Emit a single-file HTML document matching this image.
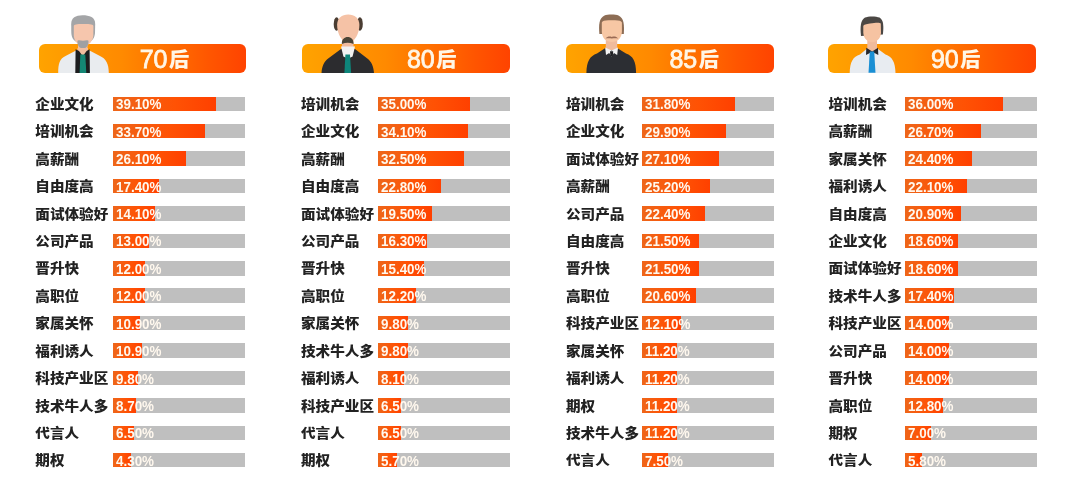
<!DOCTYPE html>
<html lang="zh-CN"><head><meta charset="utf-8"><title>各年龄段求职关注因素</title>
<style>
html,body{margin:0;padding:0;background:#fff;}
body{width:1069px;height:491px;position:relative;overflow:hidden;}
.wrap{position:absolute;left:0;top:0;width:1069px;height:491px;will-change:transform;}
.h{position:absolute;top:43.70px;height:29.00px;border-radius:6px;background:linear-gradient(90deg,#ffa300 0%,#ff8a00 40%,#ff7800 55%,#ff5500 83%,#ff4300 100%);}
.ht{position:absolute;top:47.00px;font:normal 25px/1 "Liberation Sans","Noto Sans CJK SC",sans-serif;color:#fff6e6;white-space:nowrap;-webkit-text-stroke:0.8px #fff6e6;}
.ht span{font-size:20.2px;font-weight:900;margin-left:1.6px;vertical-align:1.2px;-webkit-text-stroke:0;}
.l{position:absolute;font:900 14.6px/1 "Liberation Sans","Noto Sans CJK SC",sans-serif;color:#222;white-space:nowrap;transform:scaleY(0.9);transform-origin:0 50%;}
.b{position:absolute;height:14.50px;width:132.30px;background:#bfbfbf;}
.f{position:absolute;left:0;top:0;height:100%;background:linear-gradient(90deg,#ee661a,#ff5204 60%,#ff4000);}
.p{position:absolute;left:3px;top:0.85px;font:bold 14.5px/1 "Liberation Sans",sans-serif;color:#fff8ee;white-space:nowrap;transform:scaleX(0.925);transform-origin:0 0;}
svg.figs{position:absolute;left:0;top:0;}
</style></head><body><div class="wrap">

<div class="h" style="left:38.70px;width:207.50px"></div>
<div class="h" style="left:302.00px;width:207.70px"></div>
<div class="h" style="left:566.30px;width:207.70px"></div>
<div class="h" style="left:828.40px;width:208.10px"></div>
<svg class="figs" width="1069" height="80" viewBox="0 0 1069 80">
<!-- 70 -->
<g>
<path d="M71.2,24 C71.2,18 75.5,15.3 82.5,15.3 C89.5,15.3 95.2,17 95.2,24 L95,33 C94.6,38 92,41.5 88,42.5 L78,42.5 C74,41.5 71.6,38 71.3,33 Z" fill="#a4a5a7"/>
<rect x="78" y="42" width="9.5" height="14" fill="#f1bda0"/>
<path d="M73.8,26 C74,24.6 76,24.1 83.5,24.1 C91,24.1 93.2,24.6 93.4,26 L93.3,35.5 C93,41 89,45.5 83.5,46 C78,45.5 74,41 73.8,35.5 Z" fill="#f6c6ad"/>
<path d="M77.4,41.2 C77.4,39.9 80,40.2 83,40.7 C86,40.2 88.5,39.9 88.5,41.2 C88.5,46 86,48.4 83,48.4 C80,48.4 77.4,46 77.4,41.2 Z" fill="#9fa0a3"/>
<path d="M58.2,73 C58.2,64 59.5,58.5 66,55.8 L76,50.4 L89.5,50.4 L99.5,55.8 C106,58.5 108.8,64 108.8,73 Z" fill="#e9ecef"/>
<path d="M77.5,48 L88,48 L88,53 L82.8,57.5 L77.5,53 Z" fill="#f1bda0"/>
<path d="M75.6,49.3 L79,51 L82.8,56.2 L86.6,51 L89.6,49.3 L89.9,73 L75.3,73 Z" fill="#1d1d1f"/>
<path d="M80.3,54.6 L85.3,54.6 L86.3,73 L79.6,73 Z" fill="#148674"/>
</g>
<!-- 80 -->
<g>
<path d="M321.5,73 C322,66 324,61.5 328.5,58.2 L341,49 L355,49 L367,58.2 C371.5,61.5 373.5,66 374,73 Z" fill="#2c2c2f"/>
<rect x="342" y="38" width="11.5" height="10" fill="#f0bb9e"/>
<ellipse cx="336.6" cy="24" rx="2.9" ry="6.8" fill="#4a3d33"/>
<ellipse cx="359.9" cy="24" rx="2.9" ry="6.8" fill="#4a3d33"/>
<path d="M348.2,14.5 C354.6,14.5 359.4,18.5 359.4,25 C359.4,33 355,42 348.2,43.6 C341.4,42 337.1,33 337.1,25 C337.1,18.5 341.8,14.5 348.2,14.5 Z" fill="#f5c2a6"/>
<path d="M341.8,44 C341.8,39 344.5,37 347.7,37 C351,37 353.6,39 353.6,44 C351.5,43.2 349.5,42.8 347.7,42.8 C345.8,42.8 343.8,43.2 341.8,44 Z" fill="#4a4436"/>
<path d="M341,46.5 L355,46.5 L352.6,56.5 L348,58.8 L343.4,56.5 Z" fill="#f2f2f2"/>
<path d="M345.4,54.6 L350,54.6 L351.1,73 L344.4,73 Z" fill="#0e857a"/>
</g>
<!-- 85 -->
<g>
<path d="M586.4,73 C586.6,61 590,56 597,53.5 L605,48.3 L617.5,48.3 L626,53.5 C633,56 636,61 636.1,73 Z" fill="#2c2e33"/>
<rect x="605.8" y="38" width="11.4" height="12" fill="#f0bb9c"/>
<path d="M599.4,34 C598.6,25 599,18 604.5,15.5 C607.5,14.3 615.5,14.3 618.5,15.5 C624,18 624.4,25 623.8,34 Z" fill="#8d6d55"/>
<path d="M601.8,22.5 C602.5,20.5 606,19.8 611.8,20.3 C617.5,19.8 621.2,20.5 621.9,22.5 L621.9,32 C621.5,38.5 617.5,42 611.8,42 C606.2,42 602.2,38.5 601.8,32 Z" fill="#f7c7a4"/>
<path d="M605.6,38.6 C607.3,36.3 609.8,36.3 611.8,37 C613.8,36.3 616.3,36.3 618,38.6 C616,38.1 613.5,38.3 611.8,38.6 C610,38.3 607.6,38.1 605.6,38.6 Z" fill="#9a6b55"/>
<path d="M605.2,47.6 L611.6,50.6 L618,47.6 L617.2,55 L614,53 L611.6,56.4 L609.2,53 L606,55 Z" fill="#f4f4f4"/>
<path d="M610,51.3 L613.2,51.3 L612.8,56.2 L610.4,56.2 Z" fill="#1f2024"/>
</g>
<!-- 90 -->
<g>
<path d="M849.7,73 C850,62 853,56.5 860,54.5 L866.5,49 L878,49 L885.5,54.5 C892,56.5 895.3,62 895.5,73 Z" fill="#e8ecf1"/>
<rect x="867.3" y="38" width="9.7" height="13" fill="#f0bb9c"/>
<path d="M861,36 C860,27 860.5,20 865,17.5 C868,16 876,16 879.5,17.5 C884,20 883.6,27 882.9,34.5 Z" fill="#4b4744"/>
<path d="M863.3,26 C863.8,24.5 866,24.3 870,23.5 C875,22.7 880,22.2 880.8,23.5 L881,33 C880.5,39 876.5,42.2 872.2,42.2 C867.8,42.2 863.8,39 863.3,33 Z" fill="#f6c3a2"/>
<path d="M866.3,47.7 L872.2,51.5 L878,47.7 L878.3,55 L874.5,53 L872.2,54.5 L869.9,53 L866,55 Z" fill="#26262b"/>
<path d="M869.8,51.5 L874.2,51.5 L875.5,72.8 L868.5,72.8 Z" fill="#1a8fd4"/>
</g>
</svg>

<div class="ht" style="left:139.70px">70<span>后</span></div>
<div class="l" style="left:35.30px;top:96.90px">企业文化</div>
<div class="b" style="left:112.60px;top:96.50px"><div class="f" style="width:103.50px"></div><div class="p">39.10%</div></div>
<div class="l" style="left:35.30px;top:124.32px">培训机会</div>
<div class="b" style="left:112.60px;top:123.92px"><div class="f" style="width:92.40px"></div><div class="p">33.70%</div></div>
<div class="l" style="left:35.30px;top:151.74px">高薪酬</div>
<div class="b" style="left:112.60px;top:151.34px"><div class="f" style="width:73.10px"></div><div class="p">26.10%</div></div>
<div class="l" style="left:35.30px;top:179.16px">自由度高</div>
<div class="b" style="left:112.60px;top:178.76px"><div class="f" style="width:46.60px"></div><div class="p">17.40%</div></div>
<div class="l" style="left:35.30px;top:206.58px">面试体验好</div>
<div class="b" style="left:112.60px;top:206.18px"><div class="f" style="width:42.70px"></div><div class="p">14.10%</div></div>
<div class="l" style="left:35.30px;top:234.00px">公司产品</div>
<div class="b" style="left:112.60px;top:233.60px"><div class="f" style="width:36.80px"></div><div class="p">13.00%</div></div>
<div class="l" style="left:35.30px;top:261.42px">晋升快</div>
<div class="b" style="left:112.60px;top:261.02px"><div class="f" style="width:32.10px"></div><div class="p">12.00%</div></div>
<div class="l" style="left:35.30px;top:288.84px">高职位</div>
<div class="b" style="left:112.60px;top:288.44px"><div class="f" style="width:32.10px"></div><div class="p">12.00%</div></div>
<div class="l" style="left:35.30px;top:316.26px">家属关怀</div>
<div class="b" style="left:112.60px;top:315.86px"><div class="f" style="width:27.60px"></div><div class="p">10.90%</div></div>
<div class="l" style="left:35.30px;top:343.68px">福利诱人</div>
<div class="b" style="left:112.60px;top:343.28px"><div class="f" style="width:29.40px"></div><div class="p">10.90%</div></div>
<div class="l" style="left:35.30px;top:371.10px">科技产业区</div>
<div class="b" style="left:112.60px;top:370.70px"><div class="f" style="width:25.50px"></div><div class="p">9.80%</div></div>
<div class="l" style="left:35.30px;top:398.52px">技术牛人多</div>
<div class="b" style="left:112.60px;top:398.12px"><div class="f" style="width:23.10px"></div><div class="p">8.70%</div></div>
<div class="l" style="left:35.30px;top:425.94px">代言人</div>
<div class="b" style="left:112.60px;top:425.54px"><div class="f" style="width:21.50px"></div><div class="p">6.50%</div></div>
<div class="l" style="left:35.30px;top:453.36px">期权</div>
<div class="b" style="left:112.60px;top:452.96px"><div class="f" style="width:18.10px"></div><div class="p">4.30%</div></div>
<div class="ht" style="left:406.90px">80<span>后</span></div>
<div class="l" style="left:301.00px;top:96.90px">培训机会</div>
<div class="b" style="left:377.80px;top:96.50px"><div class="f" style="width:92.70px"></div><div class="p">35.00%</div></div>
<div class="l" style="left:301.00px;top:124.32px">企业文化</div>
<div class="b" style="left:377.80px;top:123.92px"><div class="f" style="width:90.10px"></div><div class="p">34.10%</div></div>
<div class="l" style="left:301.00px;top:151.74px">高薪酬</div>
<div class="b" style="left:377.80px;top:151.34px"><div class="f" style="width:86.10px"></div><div class="p">32.50%</div></div>
<div class="l" style="left:301.00px;top:179.16px">自由度高</div>
<div class="b" style="left:377.80px;top:178.76px"><div class="f" style="width:63.10px"></div><div class="p">22.80%</div></div>
<div class="l" style="left:301.00px;top:206.58px">面试体验好</div>
<div class="b" style="left:377.80px;top:206.18px"><div class="f" style="width:54.40px"></div><div class="p">19.50%</div></div>
<div class="l" style="left:301.00px;top:234.00px">公司产品</div>
<div class="b" style="left:377.80px;top:233.60px"><div class="f" style="width:49.10px"></div><div class="p">16.30%</div></div>
<div class="l" style="left:301.00px;top:261.42px">晋升快</div>
<div class="b" style="left:377.80px;top:261.02px"><div class="f" style="width:46.40px"></div><div class="p">15.40%</div></div>
<div class="l" style="left:301.00px;top:288.84px">高职位</div>
<div class="b" style="left:377.80px;top:288.44px"><div class="f" style="width:38.50px"></div><div class="p">12.20%</div></div>
<div class="l" style="left:301.00px;top:316.26px">家属关怀</div>
<div class="b" style="left:377.80px;top:315.86px"><div class="f" style="width:30.60px"></div><div class="p">9.80%</div></div>
<div class="l" style="left:301.00px;top:343.68px">技术牛人多</div>
<div class="b" style="left:377.80px;top:343.28px"><div class="f" style="width:30.60px"></div><div class="p">9.80%</div></div>
<div class="l" style="left:301.00px;top:371.10px">福利诱人</div>
<div class="b" style="left:377.80px;top:370.70px"><div class="f" style="width:26.20px"></div><div class="p">8.10%</div></div>
<div class="l" style="left:301.00px;top:398.52px">科技产业区</div>
<div class="b" style="left:377.80px;top:398.12px"><div class="f" style="width:23.50px"></div><div class="p">6.50%</div></div>
<div class="l" style="left:301.00px;top:425.94px">代言人</div>
<div class="b" style="left:377.80px;top:425.54px"><div class="f" style="width:23.50px"></div><div class="p">6.50%</div></div>
<div class="l" style="left:301.00px;top:453.36px">期权</div>
<div class="b" style="left:377.80px;top:452.96px"><div class="f" style="width:19.50px"></div><div class="p">5.70%</div></div>
<div class="ht" style="left:669.40px">85<span>后</span></div>
<div class="l" style="left:566.00px;top:96.90px">培训机会</div>
<div class="b" style="left:642.20px;top:96.50px"><div class="f" style="width:92.50px"></div><div class="p">31.80%</div></div>
<div class="l" style="left:566.00px;top:124.32px">企业文化</div>
<div class="b" style="left:642.20px;top:123.92px"><div class="f" style="width:83.50px"></div><div class="p">29.90%</div></div>
<div class="l" style="left:566.00px;top:151.74px">面试体验好</div>
<div class="b" style="left:642.20px;top:151.34px"><div class="f" style="width:76.90px"></div><div class="p">27.10%</div></div>
<div class="l" style="left:566.00px;top:179.16px">高薪酬</div>
<div class="b" style="left:642.20px;top:178.76px"><div class="f" style="width:67.70px"></div><div class="p">25.20%</div></div>
<div class="l" style="left:566.00px;top:206.58px">公司产品</div>
<div class="b" style="left:642.20px;top:206.18px"><div class="f" style="width:62.90px"></div><div class="p">22.40%</div></div>
<div class="l" style="left:566.00px;top:234.00px">自由度高</div>
<div class="b" style="left:642.20px;top:233.60px"><div class="f" style="width:56.80px"></div><div class="p">21.50%</div></div>
<div class="l" style="left:566.00px;top:261.42px">晋升快</div>
<div class="b" style="left:642.20px;top:261.02px"><div class="f" style="width:56.80px"></div><div class="p">21.50%</div></div>
<div class="l" style="left:566.00px;top:288.84px">高职位</div>
<div class="b" style="left:642.20px;top:288.44px"><div class="f" style="width:53.60px"></div><div class="p">20.60%</div></div>
<div class="l" style="left:566.00px;top:316.26px">科技产业区</div>
<div class="b" style="left:642.20px;top:315.86px"><div class="f" style="width:39.10px"></div><div class="p">12.10%</div></div>
<div class="l" style="left:566.00px;top:343.68px">家属关怀</div>
<div class="b" style="left:642.20px;top:343.28px"><div class="f" style="width:35.10px"></div><div class="p">11.20%</div></div>
<div class="l" style="left:566.00px;top:371.10px">福利诱人</div>
<div class="b" style="left:642.20px;top:370.70px"><div class="f" style="width:34.70px"></div><div class="p">11.20%</div></div>
<div class="l" style="left:566.00px;top:398.52px">期权</div>
<div class="b" style="left:642.20px;top:398.12px"><div class="f" style="width:34.70px"></div><div class="p">11.20%</div></div>
<div class="l" style="left:566.00px;top:425.94px">技术牛人多</div>
<div class="b" style="left:642.20px;top:425.54px"><div class="f" style="width:34.70px"></div><div class="p">11.20%</div></div>
<div class="l" style="left:566.00px;top:453.36px">代言人</div>
<div class="b" style="left:642.20px;top:452.96px"><div class="f" style="width:25.90px"></div><div class="p">7.50%</div></div>
<div class="ht" style="left:930.90px">90<span>后</span></div>
<div class="l" style="left:828.50px;top:96.90px">培训机会</div>
<div class="b" style="left:905.00px;top:96.50px"><div class="f" style="width:98.30px"></div><div class="p">36.00%</div></div>
<div class="l" style="left:828.50px;top:124.32px">高薪酬</div>
<div class="b" style="left:905.00px;top:123.92px"><div class="f" style="width:76.30px"></div><div class="p">26.70%</div></div>
<div class="l" style="left:828.50px;top:151.74px">家属关怀</div>
<div class="b" style="left:905.00px;top:151.34px"><div class="f" style="width:67.10px"></div><div class="p">24.40%</div></div>
<div class="l" style="left:828.50px;top:179.16px">福利诱人</div>
<div class="b" style="left:905.00px;top:178.76px"><div class="f" style="width:62.30px"></div><div class="p">22.10%</div></div>
<div class="l" style="left:828.50px;top:206.58px">自由度高</div>
<div class="b" style="left:905.00px;top:206.18px"><div class="f" style="width:56.00px"></div><div class="p">20.90%</div></div>
<div class="l" style="left:828.50px;top:234.00px">企业文化</div>
<div class="b" style="left:905.00px;top:233.60px"><div class="f" style="width:52.50px"></div><div class="p">18.60%</div></div>
<div class="l" style="left:828.50px;top:261.42px">面试体验好</div>
<div class="b" style="left:905.00px;top:261.02px"><div class="f" style="width:52.50px"></div><div class="p">18.60%</div></div>
<div class="l" style="left:828.50px;top:288.84px">技术牛人多</div>
<div class="b" style="left:905.00px;top:288.44px"><div class="f" style="width:48.60px"></div><div class="p">17.40%</div></div>
<div class="l" style="left:828.50px;top:316.26px">科技产业区</div>
<div class="b" style="left:905.00px;top:315.86px"><div class="f" style="width:44.10px"></div><div class="p">14.00%</div></div>
<div class="l" style="left:828.50px;top:343.68px">公司产品</div>
<div class="b" style="left:905.00px;top:343.28px"><div class="f" style="width:44.10px"></div><div class="p">14.00%</div></div>
<div class="l" style="left:828.50px;top:371.10px">晋升快</div>
<div class="b" style="left:905.00px;top:370.70px"><div class="f" style="width:44.00px"></div><div class="p">14.00%</div></div>
<div class="l" style="left:828.50px;top:398.52px">高职位</div>
<div class="b" style="left:905.00px;top:398.12px"><div class="f" style="width:37.80px"></div><div class="p">12.80%</div></div>
<div class="l" style="left:828.50px;top:425.94px">期权</div>
<div class="b" style="left:905.00px;top:425.54px"><div class="f" style="width:26.10px"></div><div class="p">7.00%</div></div>
<div class="l" style="left:828.50px;top:453.36px">代言人</div>
<div class="b" style="left:905.00px;top:452.96px"><div class="f" style="width:16.50px"></div><div class="p">5.80%</div></div>
</div></body></html>
